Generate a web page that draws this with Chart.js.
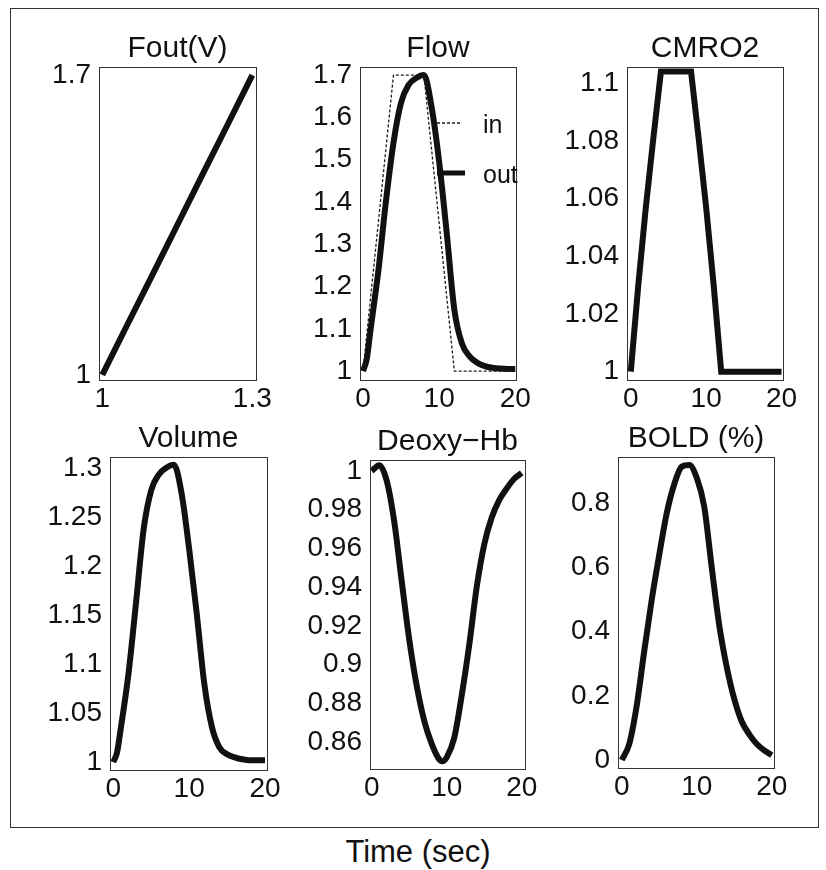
<!DOCTYPE html>
<html lang="en">
<head>
<meta charset="UTF-8">
<title>Balloon model responses</title>
<script src="https://cdn.jsdelivr.net/npm/chart.js"></script>
<style>
    body { margin: 0; background: #fff; }
    #page { position: relative; width: 826px; height: 870px; overflow: hidden; }
    #frame { position: absolute; left: 10px; top: 8px; width: 807px; height: 818px; border: 1.5px solid #333; }
    canvas { position: absolute; }
    #xlabel {
        position: absolute; left: 0; width: 836px; top: 834px; text-align: center;
        font: 31px "Liberation Sans", Arial, Helvetica, sans-serif; color: #111;
    }
</style>
</head>
<body>
<div id="page">
    <div id="frame"></div>
    <div id="xlabel">Time (sec)</div>
</div>

<script>
    // Fout(V)
    const foutV = [1, 1.05, 1.1, 1.15, 1.2, 1.25, 1.3];
    const foutF = [1, 1.117, 1.233, 1.35, 1.467, 1.583, 1.7];

    // Flow (in / out)
    const flowInT = [0, 4, 8, 12, 20];
    const flowIn = [1, 1.7, 1.7, 1, 1];
    const flowOutT = [0, 0.5, 1, 2, 3, 4, 5, 6, 7, 8, 9, 10, 11, 12, 13, 14, 15, 16, 17, 18, 19, 20];
    const flowOut = [1.0, 1.03, 1.1, 1.235, 1.4, 1.54, 1.635, 1.677, 1.693, 1.7, 1.625, 1.495, 1.326, 1.145, 1.065, 1.035, 1.02, 1.012, 1.008, 1.006, 1.005, 1.005];

    // CMRO2
    const cmroT = [0, 1, 2, 3, 4, 8, 9, 10, 11, 12, 20];
    const cmro = [1, 1.030, 1.057, 1.081, 1.104, 1.104, 1.081, 1.057, 1.030, 1, 1];

    // Volume
    const volT = [0, 0.5, 1, 2, 3, 4, 5, 6, 7, 8, 9, 10, 11, 12, 13, 14, 15, 16, 17, 18, 19, 20];
    const vol = [1.0, 1.01, 1.035, 1.09, 1.163, 1.238, 1.278, 1.294, 1.301, 1.304, 1.275, 1.218, 1.152, 1.08, 1.036, 1.015, 1.008, 1.005, 1.003, 1.002, 1.002, 1.002];

    // Deoxy-Hb
    const deoxyT = [0, 1, 2, 3, 4, 5, 6, 7, 8, 9, 9.5, 10, 11, 12, 13, 14, 15, 16, 17, 18, 19, 20];
    const deoxy = [1.0, 1.003, 0.995, 0.974, 0.943, 0.913, 0.889, 0.871, 0.859, 0.851, 0.85, 0.852, 0.862, 0.884, 0.91, 0.94, 0.962, 0.976, 0.985, 0.991, 0.996, 0.999];

    // BOLD (%)
    const boldT = [0, 1, 2, 3, 4, 5, 6, 7, 8, 9, 10, 11, 12, 13, 14, 15, 16, 17, 18, 19, 20];
    const bold = [0.0, 0.05, 0.17, 0.34, 0.5, 0.64, 0.77, 0.86, 0.915, 0.92, 0.88, 0.79, 0.6, 0.42, 0.29, 0.19, 0.12, 0.08, 0.05, 0.03, 0.015];

    // tick labels
    const foutXTicks = [1, 1.3];
    const foutYTicks = [1, 1.7];
    const timeTicks = [0, 10, 20];
    const flowYTicks = [1, 1.1, 1.2, 1.3, 1.4, 1.5, 1.6, 1.7];
    const cmroYTicks = [1, 1.02, 1.04, 1.06, 1.08, 1.1];
    const volYTicks = [1, 1.05, 1.1, 1.15, 1.2, 1.25, 1.3];
    const deoxyYTicks = [0.86, 0.88, 0.9, 0.92, 0.94, 0.96, 0.98, 1];
    const boldYTicks = [0, 0.2, 0.4, 0.6, 0.8];

    const FONT = '"Liberation Sans", Arial, Helvetica, sans-serif';
    const INK = '#111';
    const AXW = 100, TITLEH = 36, XAXH = 40;
    const page = document.getElementById('page');

    const pts = (xs, ys) => xs.map((x, i) => ({ x: x, y: ys[i] }));
    const fmt = v => String(Math.round(v * 1000) / 1000);

    function curve(label, xs, ys, smooth) {
        return {
            label: label,
            data: pts(xs, ys),
            borderColor: INK,
            borderWidth: 6,
            pointRadius: 0,
            fill: false,
            tension: 0,
            cubicInterpolationMode: smooth ? 'monotone' : 'default'
        };
    }

    // thin box around the plot area
    const boxPlugin = {
        id: 'box',
        afterDraw(chart) {
            const { ctx, chartArea: a } = chart;
            ctx.save();
            ctx.strokeStyle = '#333';
            ctx.lineWidth = 1;
            ctx.strokeRect(Math.round(a.left) + 0.5, Math.round(a.top) + 0.5,
                Math.round(a.right - a.left), Math.round(a.bottom - a.top));
            ctx.restore();
        }
    };

    // legend drawn inside the flow plot
    const flowLegend = {
        id: 'flowLegend',
        afterDraw(chart) {
            const { ctx, chartArea: a } = chart;
            chart.data.datasets.forEach((ds, i) => {
                const y = a.top + 56 + i * 50;
                ctx.save();
                ctx.strokeStyle = ds.borderColor;
                ctx.lineWidth = ds.borderDash ? ds.borderWidth : 5;
                ctx.setLineDash(ds.borderDash || []);
                ctx.beginPath();
                ctx.moveTo(a.left + 77, y);
                ctx.lineTo(a.left + (ds.borderDash ? 102 : 105), y);
                ctx.stroke();
                ctx.setLineDash([]);
                ctx.fillStyle = INK;
                ctx.font = '25px ' + FONT;
                ctx.textBaseline = 'middle';
                ctx.fillText(ds.label, a.left + 123, y + 3);
                ctx.restore();
            });
        }
    };

    function makePanel(box, title, datasets, xr, yr, xTicks, yTicks, extra) {
        const [L, T, W, H] = box;
        const c = document.createElement('canvas');
        c.width = W + 2 * AXW;
        c.height = TITLEH + H + XAXH;
        c.style.left = (L - AXW) + 'px';
        c.style.top = (T - TITLEH) + 'px';
        page.appendChild(c);

        const tickFont = { family: FONT, size: 28 };
        return new Chart(c, {
            type: 'line',
            data: { datasets: datasets },
            options: {
                responsive: false,
                animation: false,
                events: [],
                layout: { padding: 0 },
                plugins: {
                    legend: { display: false },
                    tooltip: { enabled: false },
                    title: {
                        display: true, text: title, color: INK,
                        font: { family: FONT, size: 30, weight: 'normal' },
                        padding: { top: 0, bottom: 0 }
                    }
                },
                scales: {
                    x: {
                        type: 'linear', min: xr[0], max: xr[1],
                        grid: { display: false, drawTicks: false },
                        border: { display: false },
                        afterBuildTicks: s => { s.ticks = xTicks.map(v => ({ value: v })); },
                        afterFit: s => { s.height = XAXH; s.paddingLeft = 0; s.paddingRight = 0; },
                        ticks: { color: INK, font: tickFont, padding: 2, maxRotation: 0, autoSkip: false, callback: fmt }
                    },
                    y: {
                        type: 'linear', min: yr[0], max: yr[1],
                        grid: { display: false, drawTicks: false },
                        border: { display: false },
                        afterBuildTicks: s => { s.ticks = yTicks.map(v => ({ value: v })); },
                        afterFit: s => { s.width = AXW; s.paddingTop = 0; s.paddingBottom = 0; },
                        ticks: { color: INK, font: tickFont, padding: 8, autoSkip: false, callback: fmt }
                    },
                    yR: {
                        type: 'linear', position: 'right', min: 0, max: 1,
                        grid: { display: false, drawTicks: false },
                        border: { display: false },
                        ticks: { display: false },
                        afterFit: s => { s.width = AXW; }
                    }
                }
            },
            plugins: [boxPlugin].concat(extra || [])
        });
    }

    const flowInSet = curve('in', flowInT, flowIn, false);
    flowInSet.borderWidth = 1.3;
    flowInSet.borderDash = [3, 2];
    flowInSet.borderColor = '#1a1a1a';
    const flowOutSet = curve('out', flowOutT, flowOut, true);

    makePanel([99, 67, 157, 313], 'Fout(V)', [curve('Fout', foutV, foutF, false)],
        [0.9934, 1.3074], [0.988, 1.719], foutXTicks, foutYTicks);

    makePanel([360, 67, 156, 313], 'Flow', [flowInSet, flowOutSet],
        [-0.4, 20.1], [0.979, 1.719], timeTicks, flowYTicks, [flowLegend]);

    makePanel([627, 67, 156, 313], 'CMRO2', [curve('CMRO2', cmroT, cmro, false)],
        [-0.5, 20.2], [0.9971, 1.1056], timeTicks, cmroYTicks);

    makePanel([110, 457, 157, 313], 'Volume', [curve('Volume', volT, vol, true)],
        [-0.43, 20.26], [0.992, 1.312], timeTicks, volYTicks);

    makePanel([370, 460, 155, 309], 'Deoxy\u2212Hb', [curve('Deoxy-Hb', deoxyT, deoxy, true)],
        [-0.23, 20.44], [0.846, 1.0057], timeTicks, deoxyYTicks);

    makePanel([618, 457, 156, 311], 'BOLD (%)', [curve('BOLD', boldT, bold, true)],
        [-0.5, 20.3], [-0.025, 0.945], timeTicks, boldYTicks);
</script>
</body>
</html>
